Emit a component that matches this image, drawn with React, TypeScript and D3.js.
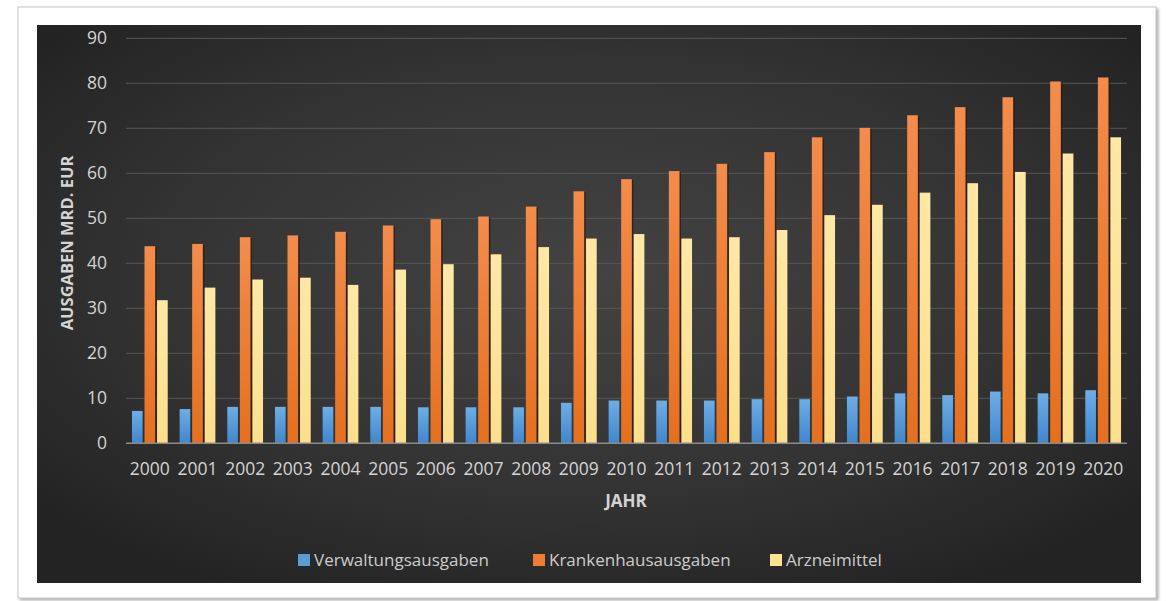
import React from "react";
import * as d3 from "d3";

const years = ["2000","2001","2002","2003","2004","2005","2006","2007","2008","2009","2010","2011","2012","2013","2014","2015","2016","2017","2018","2019","2020"];
const verwaltung = [7.2,7.6,8.1,8.1,8.1,8.1,8.0,8.0,8.0,9.0,9.5,9.5,9.5,9.8,9.8,10.4,11.1,10.7,11.5,11.1,11.8];
const krankenhaus = [43.8,44.3,45.8,46.2,47.0,48.4,49.8,50.4,52.6,56.0,58.7,60.5,62.1,64.7,68.0,70.1,72.9,74.7,76.9,80.4,81.3];
const arznei = [31.8,34.6,36.4,36.8,35.2,38.6,39.8,42.0,43.6,45.5,46.5,45.5,45.8,47.4,50.7,53.0,55.7,57.8,60.3,64.4,68.0];
const seriesNames = ["Verwaltungsausgaben","Krankenhausausgaben","Arzneimittel"];
const yTicks = [0,10,20,30,40,50,60,70,80,90];

const W = 1166, H = 601;
const plot = { left: 126, right: 1127, top: 38.3, bottom: 443.3 };
const seriesData = [verwaltung, krankenhaus, arznei];
const gradIds = ["gBlue","gOrange","gYellow"];
const legendColors = ["#5b9bd5","#ed7d31","#ffe08f"];
const legendX = [298, 533, 770];

export default function App() {
  const x0 = d3.scaleBand<string>().domain(years).range([plot.left, plot.right]).paddingInner(0.25).paddingOuter(0.125);
  const x1 = d3.scaleBand<string>().domain(seriesNames).range([0, x0.bandwidth()]).paddingInner(0.15).paddingOuter(0);
  const y = d3.scaleLinear().domain([0, 90]).range([plot.bottom, plot.top]);
  const font = "'Open Sans', 'DejaVu Sans', sans-serif";

  return (
    <svg width={W} height={H} style={{ position: "absolute", left: 0, top: 0, display: "block" }}>
      <defs>
        <radialGradient id="bg" cx="50%" cy="45%" r="65%">
          <stop offset="0%" stopColor="#434343" />
          <stop offset="60%" stopColor="#333333" />
          <stop offset="100%" stopColor="#232323" />
        </radialGradient>
        <linearGradient id="gBlue" x1="0" y1="0" x2="0" y2="1">
          <stop offset="0%" stopColor="#6eaee6" />
          <stop offset="100%" stopColor="#3f86cc" />
        </linearGradient>
        <linearGradient id="gOrange" x1="0" y1="0" x2="0" y2="1">
          <stop offset="0%" stopColor="#f38c4c" />
          <stop offset="100%" stopColor="#e4701f" />
        </linearGradient>
        <linearGradient id="gYellow" x1="0" y1="0" x2="0" y2="1">
          <stop offset="0%" stopColor="#ffe8a6" />
          <stop offset="100%" stopColor="#fbdf8c" />
        </linearGradient>
        <filter id="cardShadow" x="-5%" y="-5%" width="110%" height="110%">
          <feDropShadow dx="2" dy="2" stdDeviation="1.5" floodColor="#999" floodOpacity="0.8" />
        </filter>
      </defs>

      <rect x={0} y={0} width={W} height={H} fill="#ffffff" />
      <rect x={18} y={7} width={1138} height={591} fill="#ffffff" stroke="#c8c8c8" strokeWidth={1} filter="url(#cardShadow)" />
      <rect x={37} y={25} width={1104} height={558} fill="url(#bg)" />

      {yTicks.filter(t => t > 0).map(t => (
        <line key={"g" + t} x1={plot.left} x2={plot.right} y1={y(t)} y2={y(t)} stroke="#575757" strokeWidth={1} />
      ))}

      {years.map((yr, i) => (
        <g key={yr} transform={`translate(${x0(yr)},0)`}>
          {seriesNames.map((s, k) => {
            const v = seriesData[k][i];
            const bx = x1(s)!;
            const bw = x1.bandwidth();
            return (
              <g key={s}>
                {k === 1 && (
                  <rect x={bx + 1.5} y={y(v) + 1} width={bw} height={plot.bottom - y(v) - 1} fill="#2a1a10" opacity={0.7} />
                )}
                <rect x={bx} y={y(v)} width={bw} height={plot.bottom - y(v)} fill={`url(#${gradIds[k]})`} />
              </g>
            );
          })}
        </g>
      ))}

      <line x1={plot.left} x2={plot.right} y1={plot.bottom} y2={plot.bottom} stroke="#8a8a8a" strokeWidth={1.5} />

      {yTicks.map(t => (
        <text key={"t" + t} x={107} y={y(t)} dy="0.35em" textAnchor="end" fill="#d4d4d4" fontSize={17.5} fontFamily={font}>{t}</text>
      ))}

      {years.map(yr => (
        <text key={"x" + yr} x={x0(yr)! + x0.bandwidth() / 2} y={468.5} dy="0.35em" textAnchor="middle" fill="#d4d4d4" fontSize={17.5} fontFamily={font}>{yr}</text>
      ))}

      <text transform={`translate(67,243) rotate(-90)`} textAnchor="middle" dy="0.35em" fill="#d4d4d4" fontSize={16.5} fontWeight="bold" fontFamily={font}>AUSGABEN MRD. EUR</text>
      <text x={626} y={501} dy="0.35em" textAnchor="middle" fill="#d4d4d4" fontSize={17} fontWeight="bold" fontFamily={font}>JAHR</text>

      {seriesNames.map((s, k) => (
        <g key={"l" + s} transform={`translate(${legendX[k]},560)`}>
          <rect x={0} y={-6} width={12} height={12} fill={legendColors[k]} />
          <text x={16} y={0} dy="0.35em" fill="#cccccc" fontSize={17} fontFamily={font}>{s}</text>
        </g>
      ))}
    </svg>
  );
}
